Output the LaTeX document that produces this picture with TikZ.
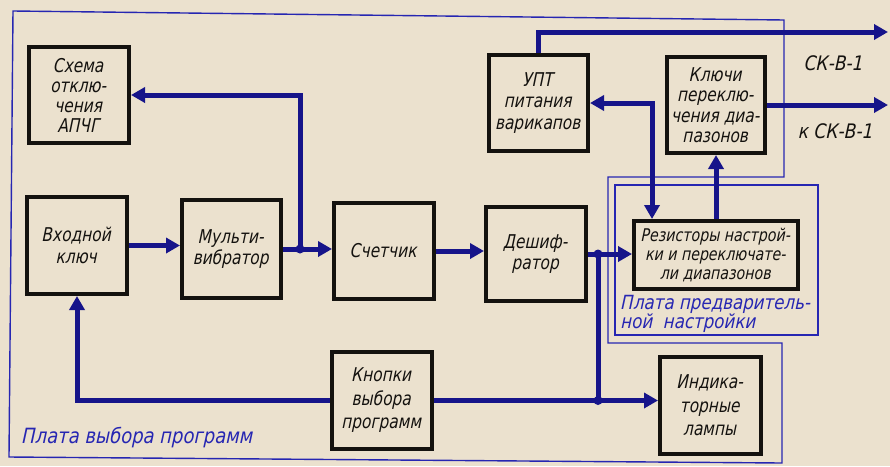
\documentclass[tikz,border=0pt]{standalone}
\usepackage{fontspec}
\setmainfont{DejaVu Sans Condensed}
\newfontfamily\df{DejaVu Sans Condensed Oblique}[FakeStretch=0.9,FakeSlant=0.05]
\newfontfamily\dfw{DejaVu Sans Condensed Oblique}[FakeStretch=0.95,FakeSlant=0.05]
\usetikzlibrary{arrows.meta}
\definecolor{paper}{RGB}{235,225,206}
\definecolor{ink}{RGB}{22,20,138}
\definecolor{thin}{RGB}{38,38,178}
\definecolor{boxline}{RGB}{20,18,15}
\tikzset{
  blk/.style={draw=boxline, line width=4pt, rectangle, align=center, inner sep=1pt,
    font=\df\fontsize{19}{21.5}\selectfont, text=boxline},
  sig/.style={draw=ink, line width=5pt, -{Triangle[length=14pt,width=15pt]}},
  sigb/.style={draw=ink, line width=5pt, {Triangle[length=14pt,width=15pt]}-{Triangle[length=14pt,width=15pt]}},
  wire/.style={draw=ink, line width=5pt},
  board/.style={draw=thin, line width=1.4pt},
  blabel/.style={text=thin, inner sep=0pt},
  olabel/.style={text=boxline, font=\dfw\fontsize{20}{22}\selectfont, inner sep=0pt},
  dot/.style={circle, fill=ink, inner sep=0pt, minimum size=9pt}
}
\begin{document}
\begin{tikzpicture}[x=1pt,y=-1pt]
\fill[paper] (0,0) rectangle (890,466);
\useasboundingbox (0,0) rectangle (890,466);
% boards
\draw[board] (13,11) -- (784,20) -- (784,177) -- (608,177) -- (608,343) -- (782,343) -- (782,463) -- (9,457) -- cycle;
\draw[board] (615,185) rectangle (818,335);
% blocks
\node[blk, minimum width=100pt, minimum height=96pt, font=\df\fontsize{19}{20}\selectfont] (apchg) at (79,95) {Схема\\отклю-\\чения\\АПЧГ};
\node[blk, minimum width=100pt, minimum height=97pt] (vk) at (77,245.5) {Входной\\ключ};
\node[blk, minimum width=99pt, minimum height=98pt] (mv) at (231.5,249) {Мульти-\\вибратор};
\node[blk, minimum width=100pt, minimum height=96pt] (sch) at (384,251) {Счетчик};
\node[blk, minimum width=100pt, minimum height=94pt] (desh) at (536,254) {Дешиф-\\ратор};
\node[blk, minimum width=99pt, minimum height=96pt] (upt) at (538.5,103) {УПТ\\питания\\варикапов};
\node[blk, minimum width=98pt, minimum height=96pt, font=\df\fontsize{19}{20.5}\selectfont] (kl) at (716,105) {Ключи\\переклю-\\чения диа-\\пазонов};
\node[blk, minimum width=164pt, minimum height=68pt, font=\df\fontsize{17.5}{19}\selectfont] (rez) at (716,255) {Резисторы настрой-\\ки и переключате-\\ли диапазонов};
\node[blk, minimum width=100pt, minimum height=97pt, font=\df\fontsize{19}{23.5}\selectfont] (kn) at (382,400.5) {Кнопки\\выбора\\программ};
\node[blk, minimum width=101pt, minimum height=97pt, font=\df\fontsize{19}{23.5}\selectfont] (ind) at (710.5,405.5) {Индика-\\торные\\лампы};
% coordinates
\coordinate (j1) at (300,249);
\coordinate (j2) at (598,254);
\coordinate (j3) at (598,400.5);
\coordinate (t1) at (652,103);
\coordinate (u1) at (538.5,32);
\coordinate (o1) at (888,32);
\coordinate (o2) at (888,105);
\coordinate (a1) at (300,95);
% connectors
\draw[sig] (vk.east) -- (mv.west |- vk.east);
\draw[sig] (mv.east) -- (sch.west |- mv.east);
\draw[sig] (j1) -- (a1) -- (apchg.east);
\draw[sig] (sch.east) -- (desh.west |- sch.east);
\draw[sig] (desh.east) -- (rez.west |- desh.east);
\draw[wire] (j2) -- (j3);
\draw[sig] (kn.east) -- (ind.west |- kn.east);
\draw[sig] (kn.west) -| (vk.south);
\draw[sig] (rez.north -| kl.south) -- (kl.south);
\draw[sigb] (upt.east) -- (t1) -- (rez.north -| t1);
\draw[sig] (upt.north) -- (u1) -- (o1);
\draw[sig] (kl.east) -- (o2);
\node[dot] at (j1) {};
\node[dot] at (j2) {};
\node[dot] at (j3) {};
% labels
\node[olabel] (l1) at (834,63) {СК-В-1};
\node[olabel] (l2) at (836,131) {к СК-В-1};
\node[blabel, anchor=west, font=\dfw\fontsize{21}{22}\selectfont] (l3) at (22,438) {Плата выбора программ};
\node[blabel, anchor=north west, align=left, font=\dfw\fontsize{19.5}{19}\selectfont] (l4) at (621,295) {Плата предваритель-\\ной\ \ настройки};
\end{tikzpicture}
\end{document}
